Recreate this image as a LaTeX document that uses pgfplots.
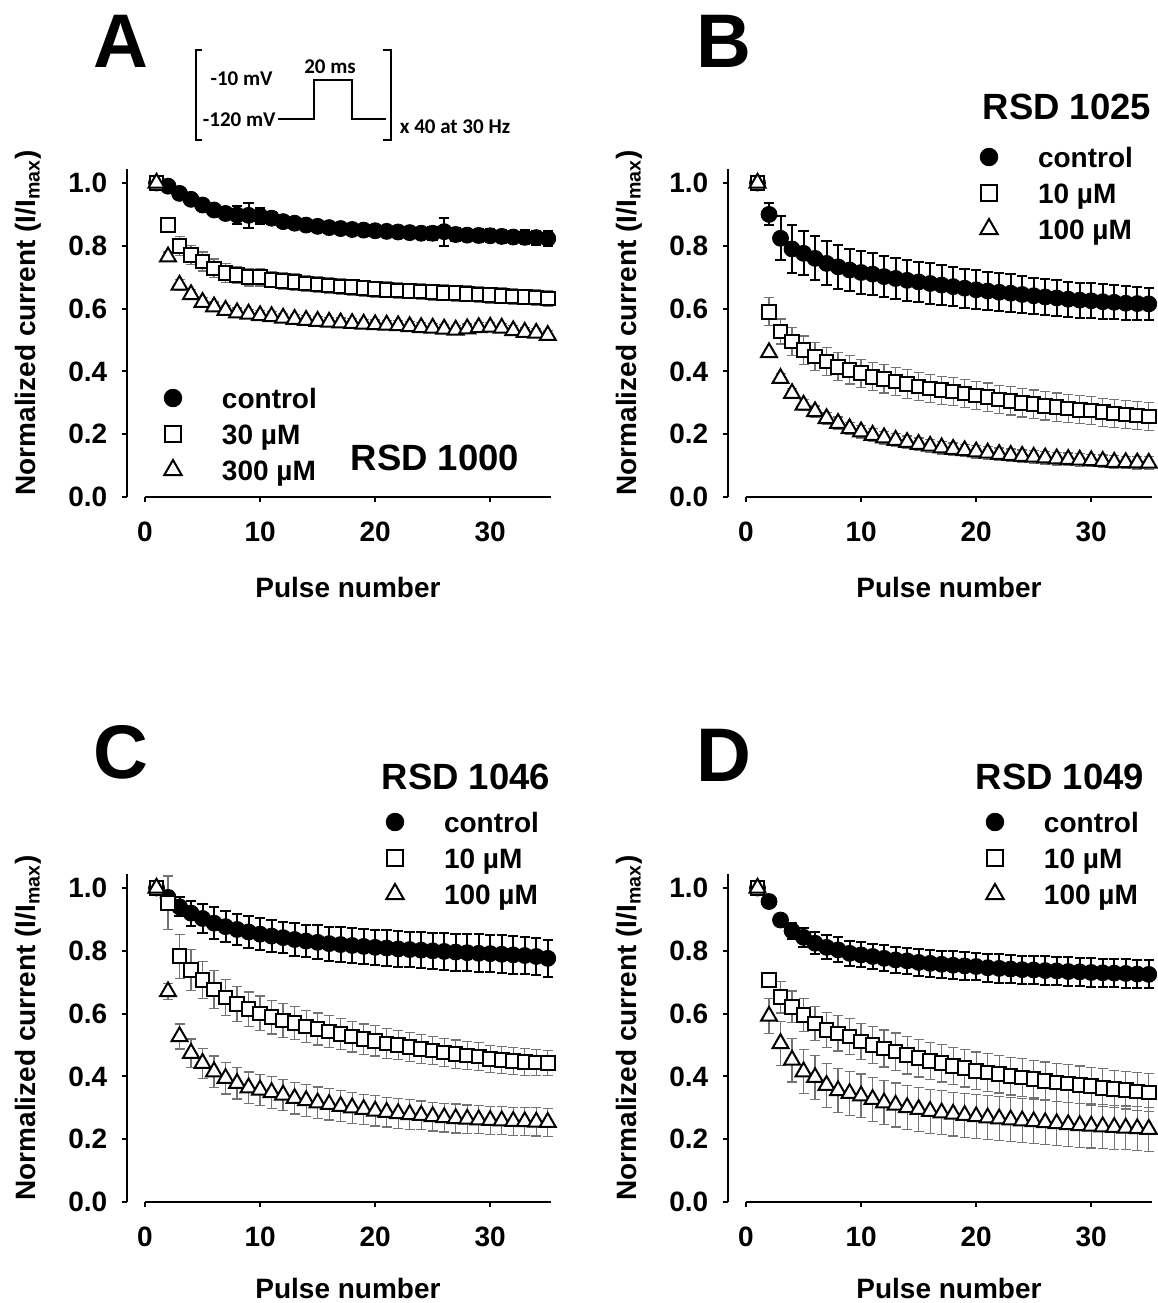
\documentclass[border=0pt]{standalone}
\usepackage{fontspec}
\setmainfont{Liberation Sans}
\newfontfamily\insetfont{Carlito}
\usepackage{pgfplots}
\usepackage{pgfplotstable}
\pgfplotsset{compat=1.18}
\definecolor{errgray}{gray}{0.45}

% ---- panel A: RSD 1000 ----
\pgfplotstableread{
x y e
1 1.000 0.000
2 0.990 0.010
3 0.967 0.012
4 0.948 0.012
5 0.930 0.015
6 0.914 0.015
7 0.903 0.018
8 0.898 0.030
9 0.897 0.040
10 0.895 0.025
11 0.888 0.020
12 0.877 0.018
13 0.872 0.015
14 0.866 0.015
15 0.862 0.015
16 0.858 0.015
17 0.855 0.015
18 0.852 0.015
19 0.850 0.015
20 0.848 0.015
21 0.846 0.015
22 0.844 0.015
23 0.842 0.018
24 0.840 0.018
25 0.840 0.020
26 0.845 0.045
27 0.836 0.020
28 0.834 0.018
29 0.833 0.020
30 0.832 0.020
31 0.830 0.020
32 0.828 0.020
33 0.827 0.022
34 0.826 0.022
35 0.823 0.025
}\Actrl
\pgfplotstableread{
x y e
1 1.000 0.000
2 0.866 0.015
3 0.800 0.030
4 0.770 0.030
5 0.750 0.030
6 0.728 0.030
7 0.714 0.030
8 0.707 0.028
9 0.700 0.028
10 0.700 0.028
11 0.692 0.026
12 0.688 0.026
13 0.684 0.026
14 0.680 0.026
15 0.677 0.025
16 0.674 0.025
17 0.671 0.025
18 0.668 0.025
19 0.665 0.025
20 0.662 0.025
21 0.660 0.025
22 0.658 0.025
23 0.656 0.025
24 0.654 0.025
25 0.652 0.025
26 0.650 0.025
27 0.649 0.025
28 0.647 0.025
29 0.645 0.025
30 0.643 0.025
31 0.641 0.025
32 0.639 0.025
33 0.637 0.025
34 0.635 0.025
35 0.632 0.025
}\Asq
\pgfplotstableread{
x y e
1 1.000 0.000
2 0.765 0.015
3 0.675 0.018
4 0.645 0.015
5 0.620 0.015
6 0.606 0.015
7 0.595 0.015
8 0.587 0.015
9 0.583 0.015
10 0.578 0.015
11 0.575 0.015
12 0.570 0.015
13 0.566 0.015
14 0.563 0.015
15 0.560 0.015
16 0.557 0.015
17 0.555 0.015
18 0.553 0.015
19 0.551 0.015
20 0.549 0.015
21 0.548 0.015
22 0.546 0.015
23 0.543 0.015
24 0.540 0.015
25 0.538 0.015
26 0.535 0.015
27 0.532 0.015
28 0.536 0.015
29 0.540 0.015
30 0.541 0.015
31 0.538 0.015
32 0.530 0.015
33 0.525 0.015
34 0.522 0.015
35 0.515 0.015
}\Atri

% ---- panel B: RSD 1025 ----
\pgfplotstableread{
x y e
1 1.000 0.000
2 0.900 0.035
3 0.824 0.070
4 0.790 0.075
5 0.776 0.070
6 0.760 0.070
7 0.744 0.070
8 0.733 0.070
9 0.723 0.068
10 0.715 0.068
11 0.710 0.066
12 0.702 0.066
13 0.696 0.065
14 0.690 0.065
15 0.685 0.064
16 0.680 0.064
17 0.675 0.063
18 0.670 0.063
19 0.665 0.062
20 0.660 0.062
21 0.656 0.060
22 0.652 0.060
23 0.649 0.060
24 0.645 0.058
25 0.641 0.058
26 0.637 0.057
27 0.634 0.057
28 0.630 0.056
29 0.627 0.056
30 0.625 0.055
31 0.622 0.055
32 0.620 0.054
33 0.617 0.054
34 0.616 0.053
35 0.615 0.052
}\Bctrl
\pgfplotstableread{
x y e
1 1.000 0.000
2 0.590 0.045
3 0.527 0.040
4 0.495 0.045
5 0.468 0.045
6 0.447 0.045
7 0.431 0.045
8 0.415 0.045
9 0.405 0.045
10 0.394 0.045
11 0.383 0.045
12 0.376 0.045
13 0.368 0.045
14 0.360 0.045
15 0.352 0.045
16 0.346 0.045
17 0.340 0.045
18 0.336 0.045
19 0.330 0.045
20 0.323 0.045
21 0.318 0.045
22 0.310 0.045
23 0.306 0.045
24 0.300 0.045
25 0.296 0.045
26 0.290 0.045
27 0.286 0.045
28 0.282 0.045
29 0.278 0.045
30 0.275 0.045
31 0.270 0.045
32 0.266 0.045
33 0.263 0.045
34 0.260 0.045
35 0.256 0.045
}\Bsq
\pgfplotstableread{
x y e
1 1.000 0.000
2 0.460 0.010
3 0.378 0.015
4 0.330 0.015
5 0.293 0.018
6 0.272 0.018
7 0.250 0.020
8 0.235 0.020
9 0.218 0.020
10 0.208 0.020
11 0.197 0.020
12 0.189 0.020
13 0.181 0.020
14 0.174 0.020
15 0.168 0.020
16 0.162 0.020
17 0.157 0.020
18 0.152 0.020
19 0.148 0.020
20 0.144 0.020
21 0.140 0.020
22 0.136 0.020
23 0.133 0.020
24 0.130 0.020
25 0.127 0.020
26 0.125 0.020
27 0.122 0.020
28 0.120 0.020
29 0.118 0.020
30 0.116 0.020
31 0.114 0.020
32 0.111 0.020
33 0.110 0.020
34 0.109 0.020
35 0.108 0.020
}\Btri

% ---- panel C: RSD 1046 ----
\pgfplotstableread{
x y e
1 1.000 0.000
2 0.970 0.020
3 0.940 0.030
4 0.920 0.040
5 0.903 0.045
6 0.888 0.050
7 0.877 0.050
8 0.868 0.050
9 0.860 0.050
10 0.853 0.050
11 0.847 0.050
12 0.842 0.050
13 0.836 0.052
14 0.831 0.052
15 0.827 0.054
16 0.823 0.054
17 0.820 0.055
18 0.817 0.055
19 0.814 0.056
20 0.811 0.056
21 0.809 0.056
22 0.806 0.057
23 0.804 0.057
24 0.802 0.058
25 0.800 0.058
26 0.798 0.058
27 0.796 0.059
28 0.794 0.059
29 0.792 0.060
30 0.791 0.060
31 0.789 0.060
32 0.787 0.060
33 0.785 0.060
34 0.782 0.060
35 0.776 0.060
}\Cctrl
\pgfplotstableread{
x y e
1 1.000 0.000
2 0.953 0.085
3 0.783 0.070
4 0.739 0.065
5 0.707 0.060
6 0.677 0.060
7 0.651 0.058
8 0.631 0.056
9 0.614 0.055
10 0.601 0.055
11 0.589 0.054
12 0.578 0.053
13 0.570 0.052
14 0.559 0.052
15 0.551 0.051
16 0.543 0.050
17 0.535 0.050
18 0.527 0.049
19 0.519 0.048
20 0.513 0.048
21 0.505 0.047
22 0.500 0.047
23 0.493 0.046
24 0.487 0.046
25 0.482 0.045
26 0.476 0.045
27 0.471 0.045
28 0.467 0.044
29 0.463 0.044
30 0.456 0.043
31 0.452 0.043
32 0.449 0.042
33 0.446 0.042
34 0.444 0.041
35 0.442 0.040
}\Csq
\pgfplotstableread{
x y e
1 1.000 0.000
2 0.670 0.025
3 0.527 0.040
4 0.474 0.045
5 0.442 0.048
6 0.415 0.050
7 0.394 0.050
8 0.378 0.050
9 0.364 0.050
10 0.357 0.050
11 0.349 0.050
12 0.341 0.050
13 0.330 0.050
14 0.323 0.050
15 0.316 0.050
16 0.311 0.050
17 0.305 0.049
18 0.300 0.049
19 0.295 0.048
20 0.290 0.048
21 0.286 0.047
22 0.282 0.047
23 0.279 0.047
24 0.276 0.046
25 0.272 0.046
26 0.269 0.046
27 0.266 0.046
28 0.264 0.045
29 0.262 0.045
30 0.260 0.045
31 0.259 0.045
32 0.257 0.045
33 0.256 0.045
34 0.255 0.045
35 0.254 0.045
}\Ctri

% ---- panel D: RSD 1049 ----
\pgfplotstableread{
x y e
1 1.000 0.000
2 0.957 0.008
3 0.898 0.010
4 0.864 0.025
5 0.843 0.030
6 0.824 0.035
7 0.811 0.038
8 0.803 0.040
9 0.792 0.040
10 0.787 0.040
11 0.782 0.041
12 0.776 0.041
13 0.771 0.042
14 0.768 0.042
15 0.763 0.043
16 0.760 0.043
17 0.757 0.043
18 0.754 0.044
19 0.752 0.044
20 0.750 0.044
21 0.746 0.045
22 0.744 0.045
23 0.742 0.045
24 0.740 0.045
25 0.739 0.045
26 0.737 0.045
27 0.736 0.045
28 0.734 0.045
29 0.733 0.045
30 0.731 0.045
31 0.730 0.045
32 0.729 0.045
33 0.728 0.045
34 0.726 0.045
35 0.725 0.045
}\Dctrl
\pgfplotstableread{
x y e
1 1.000 0.000
2 0.707 0.025
3 0.652 0.050
4 0.622 0.050
5 0.596 0.052
6 0.569 0.054
7 0.548 0.055
8 0.537 0.056
9 0.527 0.057
10 0.511 0.058
11 0.500 0.058
12 0.489 0.059
13 0.479 0.059
14 0.468 0.060
15 0.458 0.060
16 0.449 0.060
17 0.442 0.060
18 0.433 0.060
19 0.426 0.060
20 0.418 0.060
21 0.412 0.060
22 0.407 0.060
23 0.401 0.060
24 0.396 0.060
25 0.391 0.060
26 0.386 0.060
27 0.381 0.060
28 0.377 0.060
29 0.373 0.060
30 0.369 0.060
31 0.364 0.060
32 0.360 0.060
33 0.356 0.060
34 0.352 0.060
35 0.349 0.060
}\Dsq
\pgfplotstableread{
x y e
1 1.000 0.000
2 0.592 0.055
3 0.505 0.070
4 0.452 0.070
5 0.415 0.070
6 0.397 0.070
7 0.372 0.070
8 0.355 0.070
9 0.346 0.070
10 0.338 0.070
11 0.327 0.070
12 0.316 0.070
13 0.309 0.070
14 0.301 0.070
15 0.295 0.070
16 0.289 0.070
17 0.284 0.070
18 0.280 0.070
19 0.276 0.070
20 0.272 0.070
21 0.268 0.070
22 0.265 0.070
23 0.262 0.070
24 0.259 0.070
25 0.256 0.070
26 0.253 0.070
27 0.250 0.070
28 0.247 0.070
29 0.244 0.070
30 0.242 0.070
31 0.240 0.070
32 0.238 0.070
33 0.236 0.070
34 0.234 0.070
35 0.232 0.070
}\Dtri

\tikzset{
  legctrl/.style={only marks, mark=*, mark size=4.4pt, mark options={draw=black, fill=black}},
  legsq/.style={only marks, mark=square*, mark size=3.9pt, mark options={draw=black, fill=white, line width=1pt}},
  legtri/.style={only marks, mark=triangle*, mark size=5pt, mark options={draw=black, fill=white, line width=1pt}},
}

\newcommand{\txt}{\fontsize{14}{16}\selectfont\bfseries}

\pgfplotsset{
  panel/.style={
    scale only axis, width=213.45pt, height=164.85pt,
    anchor=south west,
    xmin=-1.6, xmax=35.5, ymin=0, ymax=1.05,
    clip=false,
    axis x line*=bottom, axis y line*=left,
    axis line style={draw=none},
    tick align=outside, major tick length=2.5pt,
    tick style={black, line width=1pt},
    xtick={0,10,20,30}, ytick={0,0.2,0.4,0.6,0.8,1.0},
    /pgf/number format/assume math mode=true,
    xticklabel style={font=\txt, inner sep=0pt, anchor=north, yshift=-10pt},
    yticklabel style={font=\txt, inner sep=0pt, anchor=east, xshift=-7pt,
      /pgf/number format/.cd, fixed, fixed zerofill, precision=1},
    legend style={draw=none, fill=none, inner sep=0pt, outer sep=0pt,
      anchor=north west, row sep=6pt, column sep=14.5pt,
      nodes={inner sep=0pt, text height=10pt, text depth=0pt},
      font=\txt},
    legend cell align=left,
    legend image code/.code={
      \path[draw=none, fill=none] (0pt,-6pt) rectangle (20pt,6pt);
      \draw[mark repeat=2, mark phase=2, ##1] plot coordinates {(0pt,0pt) (10pt,0pt) (20pt,0pt)};},
  },
  ctrl/.style={only marks, mark=*, mark size=4pt,
    mark options={draw=black, fill=black, line width=0.4pt},
    error bars/y dir=both, error bars/y explicit,
    error bars/error bar style={black, line width=1pt},
    error bars/error mark options={rotate=90, black, line width=1pt, mark size=2.6pt}},
  opensq/.style={only marks, mark=square*, mark size=3.4pt,
    mark options={draw=black, fill=white, line width=1pt},
    error bars/y dir=both, error bars/y explicit,
    error bars/error bar style={errgray, line width=0.6pt},
    error bars/error mark options={rotate=90, errgray, line width=0.6pt, mark size=2.5pt}},
  opentri/.style={only marks, mark=triangle*, mark size=4.6pt,
    mark options={draw=black, fill=white, line width=1pt},
    error bars/y dir=both, error bars/y explicit,
    error bars/error bar style={errgray, line width=0.6pt},
    error bars/error mark options={rotate=90, errgray, line width=0.6pt, mark size=2.5pt}},
}

\newcommand{\axlines}{%
  \draw[line width=1pt] (axis cs:0,0) -- (axis cs:35.3,0);
  \draw[line width=1pt] (axis cs:-1.6,0) -- (axis cs:-1.6,1.045);}

\begin{document}
\begin{tikzpicture}
\useasboundingbox (0pt,0pt) rectangle (579pt,-651.5pt);

% panel A
\begin{axis}[panel, at={(63.3pt,-248.5pt)},
  legend style={at={(0.0618,0.3367)}}]
\axlines
\addplot[forget plot, ctrl] table[x=x, y=y, y error=e] {\Actrl};
\addplot[forget plot, opensq] table[x=x, y=y, y error=e] {\Asq};
\addplot[forget plot, opentri] table[x=x, y=y, y error=e] {\Atri};
\addlegendimage{legctrl}\addlegendentry{control}
\addlegendimage{legsq}\addlegendentry{30 µM}
\addlegendimage{legtri}\addlegendentry{300 µM}
\end{axis}

% panel B
\begin{axis}[panel, at={(363.8pt,-248.5pt)},
  legend style={at={(0.5655,1.0676)}}]
\axlines
\addplot[forget plot, ctrl] table[x=x, y=y, y error=e] {\Bctrl};
\addplot[forget plot, opensq] table[x=x, y=y, y error=e] {\Bsq};
\addplot[forget plot, opentri] table[x=x, y=y, y error=e] {\Btri};
\addlegendimage{legctrl}\addlegendentry{control}
\addlegendimage{legsq}\addlegendentry{10 µM}
\addlegendimage{legtri}\addlegendentry{100 µM}
\end{axis}

% panel C
\begin{axis}[panel, at={(63.3pt,-601pt)},
  legend style={at={(0.5819,1.189)}}]
\axlines
\addplot[forget plot, ctrl] table[x=x, y=y, y error=e] {\Cctrl};
\addplot[forget plot, opensq] table[x=x, y=y, y error=e] {\Csq};
\addplot[forget plot, opentri] table[x=x, y=y, y error=e] {\Ctri};
\addlegendimage{legctrl}\addlegendentry{control}
\addlegendimage{legsq}\addlegendentry{10 µM}
\addlegendimage{legtri}\addlegendentry{100 µM}
\end{axis}

% panel D
\begin{axis}[panel, at={(363.8pt,-601pt)},
  legend style={at={(0.5795,1.189)}}]
\axlines
\addplot[forget plot, ctrl] table[x=x, y=y, y error=e] {\Dctrl};
\addplot[forget plot, opensq] table[x=x, y=y, y error=e] {\Dsq};
\addplot[forget plot, opentri] table[x=x, y=y, y error=e] {\Dtri};
\addlegendimage{legctrl}\addlegendentry{control}
\addlegendimage{legsq}\addlegendentry{10 µM}
\addlegendimage{legtri}\addlegendentry{100 µM}
\end{axis}

% axis titles
\foreach \lx/\ly in {14/-161.5, 314.5/-161.5, 14/-514, 314.5/-514}
  \node[rotate=90, font=\txt, inner sep=0pt] at (\lx pt,\ly pt) {Normalized current (I/I\textsubscript{max})};
\foreach \lx/\ly in {174/-293.5, 474.5/-293.5, 174/-644, 474.5/-644}
  \node[font=\txt, inner sep=0pt] at (\lx pt,\ly pt) {Pulse number};

% panel letters
\node[font=\fontsize{38}{40}\selectfont\bfseries, inner sep=0pt] at (60.5pt,-20.5pt) {A};
\node[font=\fontsize{38}{40}\selectfont\bfseries, inner sep=0pt] at (362pt,-20.5pt) {B};
\node[font=\fontsize{38}{40}\selectfont\bfseries, inner sep=0pt] at (60.5pt,-376pt) {C};
\node[font=\fontsize{38}{40}\selectfont\bfseries, inner sep=0pt] at (362pt,-377.5pt) {D};

% compound names
\node[font=\fontsize{18.25}{20}\selectfont\bfseries, inner sep=0pt] at (217.5pt,-229pt) {RSD 1000};
\node[font=\fontsize{18.25}{20}\selectfont\bfseries, inner sep=0pt] at (533.5pt,-53.5pt) {RSD 1025};
\node[font=\fontsize{18.25}{20}\selectfont\bfseries, inner sep=0pt] at (233pt,-388.5pt) {RSD 1046};
\node[font=\fontsize{18.25}{20}\selectfont\bfseries, inner sep=0pt] at (530pt,-388.5pt) {RSD 1049};

% stimulation protocol inset
\begin{scope}[line width=1pt]
  \draw (101pt,-25pt) -- (98pt,-25pt) -- (98pt,-70pt) -- (101pt,-70pt);
  \draw (191.5pt,-25pt) -- (195.5pt,-25pt) -- (195.5pt,-70pt) -- (191.5pt,-70pt);
  \draw (139pt,-59.5pt) -- (157pt,-59.5pt) -- (157pt,-40pt) -- (176pt,-40pt) -- (176pt,-59.5pt) -- (193pt,-59.5pt);
\end{scope}
\begin{scope}[every node/.style={font=\insetfont\bfseries\fontsize{10.5}{12}\selectfont, inner sep=0pt}]
  \node[anchor=east] at (136.5pt,-39.5pt) {-10 mV};
  \node[anchor=east] at (138pt,-60pt) {-120 mV};
  \node at (165pt,-33.5pt) {20 ms};
  \node at (227.5pt,-63.5pt) {x 40 at 30 Hz};
\end{scope}
\end{tikzpicture}
\end{document}
